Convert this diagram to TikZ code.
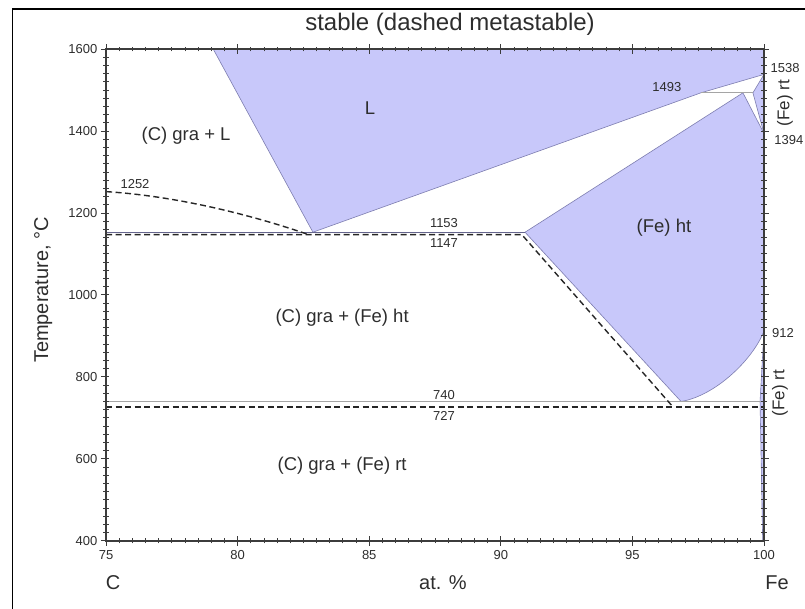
\documentclass[tikz,border=0pt]{standalone}
\usepackage{fontspec}
\setmainfont{Liberation Sans}
\definecolor{phaseBlue}{RGB}{200,200,250}
\definecolor{phaseEdge}{RGB}{125,125,175}
\definecolor{axisGray}{RGB}{60,60,60}
\definecolor{tieGray}{RGB}{165,165,165}
\definecolor{textGray}{RGB}{45,45,45}
\usetikzlibrary{positioning}

\begin{document}
\begin{tikzpicture}[x=26.32pt, y=0.41pt, font=\fontsize{13}{15}\selectfont,
  phase/.style={fill=phaseBlue, draw=phaseEdge, line width=0.6pt},
  meta/.style={black!85, line width=1.4pt, dash pattern=on 6pt off 3.5pt},
  tieline/.style={tieGray, line width=0.8pt},
  region/.style={text=textGray, font=\fontsize{18.5}{22}\selectfont},
  num/.style={text=textGray, font=\fontsize{13}{15}\selectfont},
  axlabel/.style={text=textGray, font=\fontsize{20}{24}\selectfont}]
\useasboundingbox (70.97,234.1) rectangle (101.56,1719.5);
\draw[line width=1.2pt] (71.43,234.1) -- (71.43,1697.6) -- (101.56,1697.6);

\draw[phase] (79.07,1600) -- (82.86,1153) -- (97.6,1493) -- (100,1538) -- (100,1600) -- cycle;
\draw[phase] (90.92,1153) -- (99.2,1493) -- (100,1394) -- (100,912)
  .. controls (99.6,845) and (98.2,755) .. (96.85,740) -- cycle;
\draw[phase] (99.58,1493) -- (100,1538) -- (100,1394) -- cycle;
\draw[phase] (100,912) -- (99.85,740) -- (99.95,400) -- (100,400) -- cycle;

\draw[phaseEdge!80!black, line width=0.9pt] (75,1153) -- (90.92,1153);
\draw[tieline] (97.6,1493) -- (99.58,1493);
\draw[tieline] (75,740) -- (100,740);

\draw[meta] (75,1252) .. controls (78,1240) and (81,1185) .. (82.7,1147);
\draw[meta] (75,1147) -- (90.8,1147) -- (96.54,727);
\draw[meta] (75,727) -- (100,727);

\draw[axisGray, line width=1.2pt] (75,400) rectangle (100,1600);
\foreach \i in {0,...,50} {
  \draw[axisGray, line width=0.9pt] ({75+\i/2},394) -- ({75+\i/2},406);
  \draw[axisGray, line width=0.9pt] ({75+\i/2},1594) -- ({75+\i/2},1606);
}
\foreach \c in {75,80,...,100} {
  \draw[axisGray, line width=0.9pt] (\c,388) -- (\c,412);
  \draw[axisGray, line width=0.9pt] (\c,1588) -- (\c,1612);
  \node[num] (xt\c) at (\c,366) {\c};
}
\foreach \t in {400,420,...,1600} {
  \draw[axisGray, line width=0.9pt] (74.9,\t) -- (75.1,\t);
  \draw[axisGray, line width=0.9pt] (99.9,\t) -- (100.1,\t);
}
\foreach \t in {400,600,...,1600} {
  \draw[axisGray, line width=0.9pt] (74.8,\t) -- (75,\t);
  \draw[axisGray, line width=0.9pt] (100,\t) -- (100.2,\t);
  \node[num, anchor=east] (yt\t) at (74.8,\t) {\t};
}

\node[axlabel, font=\fontsize{24}{28}\selectfont] (title) at (88.07,1661) {stable (dashed metastable)};
\node[axlabel, rotate=90] (temp) at (72.61,1012) {Temperature, °C};
\node[axlabel] (elC) at (75.27,298) {C};
\node[axlabel] (atpc) at (87.8,298) {at. \%};
\node[axlabel] (elFe) at (100.5,298) {Fe};

\node[region] (liq) at (85.03,1456) {L};
\node[region] (graL) at (78.04,1388) {(C) gra + L};
\node[region] (feht) at (96.2,1163) {(Fe) ht};
\node[region] (graht) at (83.97,944) {(C) gra + (Fe) ht};
\node[region] (grart) at (83.97,583) {(C) gra + (Fe) rt};
\node[region, font=\fontsize{17}{20}\selectfont, rotate=90] (fertA) at (100.8,1468) {(Fe) rt};
\node[region, font=\fontsize{17}{20}\selectfont, rotate=90] (fertB) at (100.61,761) {(Fe) rt};

\node[num] (t1252) at (76.1,1271) {1252};
\node[num] (t1153) at (87.84,1176) {1153};
\node[num] (t1147) at (87.84,1127) {1147};
\node[num] (t740) at (87.84,756) {740};
\node[num] (t727) at (87.84,705) {727};
\node[num] (t1493) at (96.31,1507) {1493};
\node[num] (t1538) at (100.8,1554) {1538};
\node[num, anchor=east, inner sep=1pt] (t1394) at (101.54,1378) {1394};
\node[num] (t912) at (100.72,907) {912};
\end{tikzpicture}
\end{document}
